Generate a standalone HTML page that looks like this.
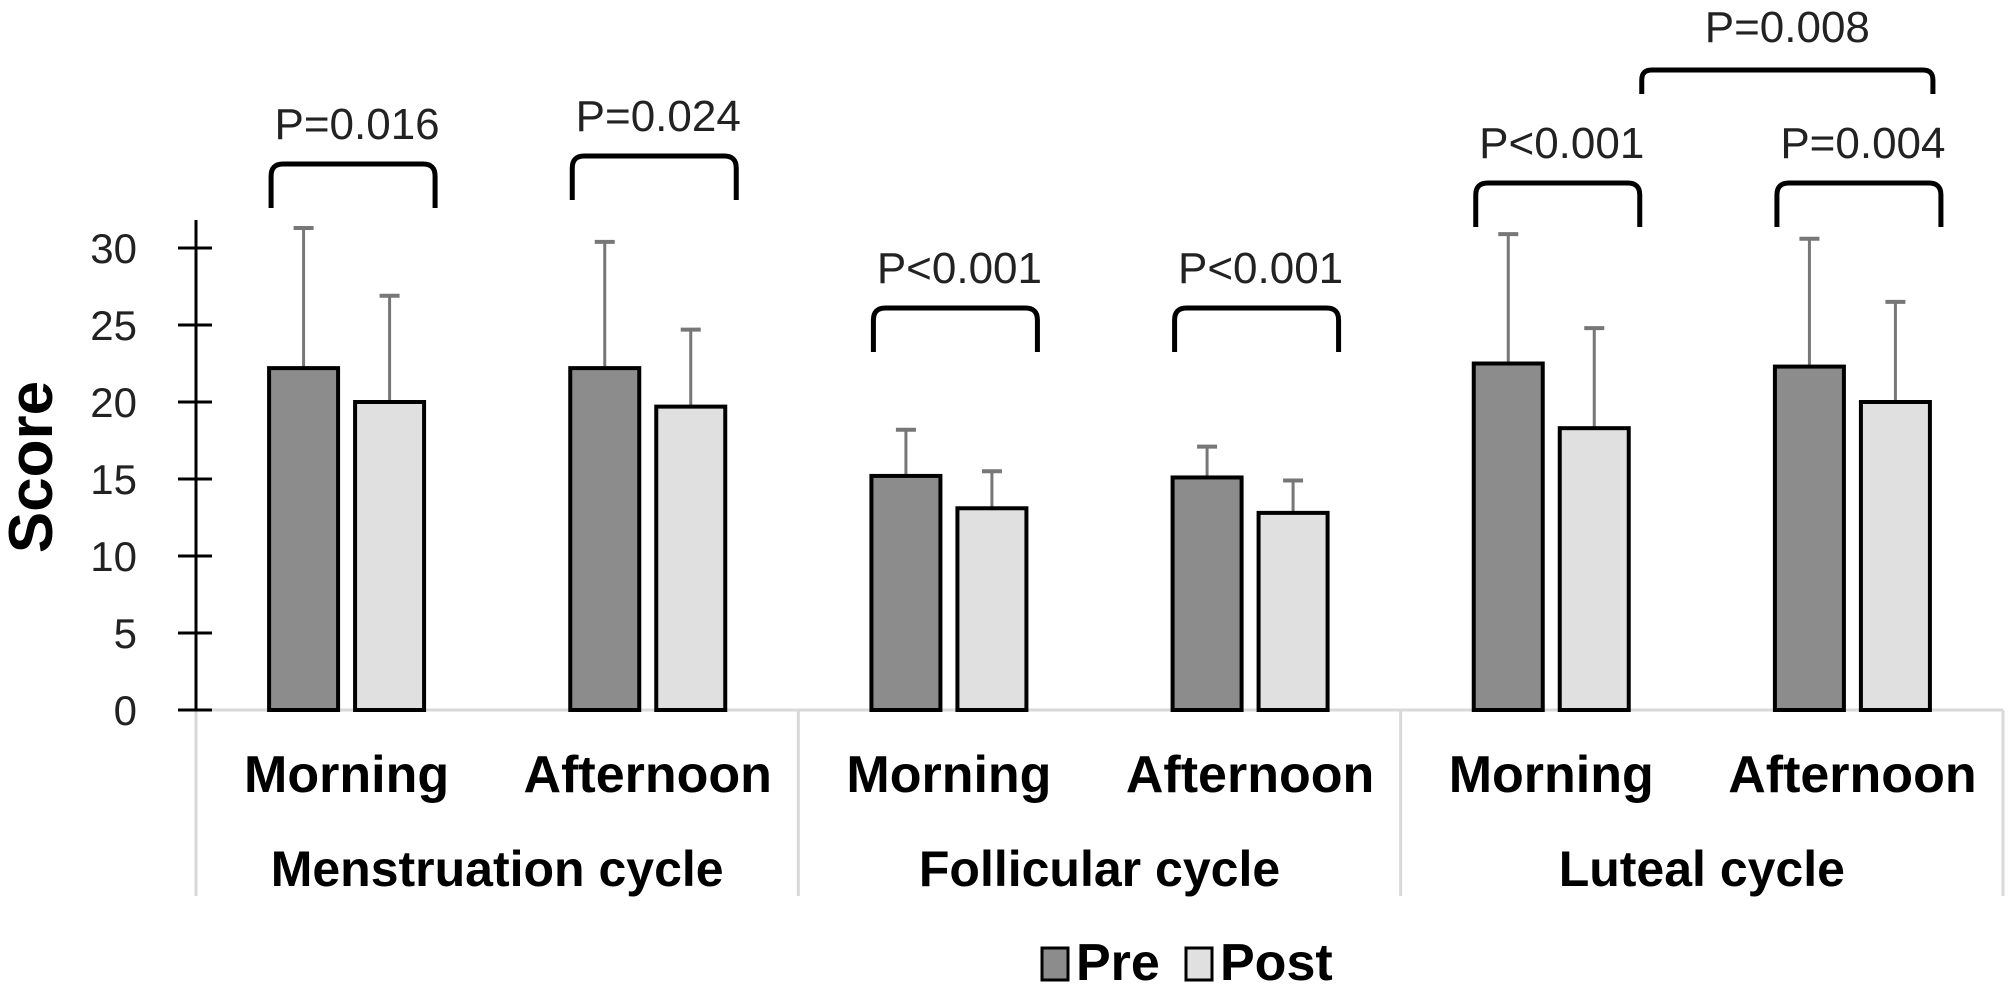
<!DOCTYPE html>
<html><head><meta charset="utf-8"><style>
html,body{margin:0;padding:0;background:#fff;}
svg{display:block;font-family:"Liberation Sans",Arial,sans-serif;}
</style></head><body>
<svg id="chart" width="2008" height="990" viewBox="0 0 2008 990"></svg>
<script>
const categories = ["Morning","Afternoon","Morning","Afternoon","Morning","Afternoon"];
const groups = ["Menstruation cycle","Follicular cycle","Luteal cycle"];
const preValues = [22.2,22.2,15.2,15.1,22.5,22.3];
const postValues = [20.0,19.7,13.1,12.8,18.3,20.0];
const preErrTop = [31.3,30.4,18.2,17.1,30.9,30.6];
const postErrTop = [26.9,24.7,15.5,14.9,24.8,26.5];
const yTicks = [0,5,10,15,20,25,30];
const pLabels = ["P=0.016","P=0.024","P<0.001","P<0.001","P<0.001","P=0.004"];
const bracketTops = [164,156,308,308,183,183];

const NS="http://www.w3.org/2000/svg";
const svg=document.getElementById('chart');
const X0=196, X1=2003, Y0=710, PX=15.4;
const gw=(X1-X0)/categories.length;
function y(v){return Y0-v*PX;}
function cx(i){return X0+gw*(i+0.5);}
function mk(tag,attrs,parent){const e=document.createElementNS(NS,tag);for(const k in attrs)e.setAttribute(k,attrs[k]);(parent||svg).appendChild(e);return e;}

const sepG=mk('g',{});


mk('line',{x1:X0,y1:Y0,x2:X1,y2:Y0,stroke:'#d9d9d9','stroke-width':3},sepG);
for(let g=0;g<=groups.length;g++){
  const xx=X0+gw*2*g;
  mk('line',{x1:xx,y1:Y0,x2:xx,y2:896,stroke:'#d9d9d9','stroke-width':3},sepG);
}

const ax=mk('g',{});


mk('line',{x1:X0,y1:220,x2:X0,y2:Y0+1,stroke:'#000','stroke-width':3},ax);
yTicks.forEach(t=>{
  mk('line',{x1:178,y1:y(t),x2:212,y2:y(t),stroke:'#000','stroke-width':3},ax);
  const tx=mk('text',{x:137,y:y(t)+15,'text-anchor':'end','font-size':42,fill:'#222'},ax);
  
  
  tx.textContent=t;
});
const yt=mk('text',{x:0,y:0,transform:'translate(52,467) rotate(-90)','text-anchor':'middle','font-size':62,'font-weight':'bold'});


yt.textContent='Score';

const bw=69, gap=17;
const bracketEnds=[];
categories.forEach((c,i)=>{
  const c0=cx(i);
  const px=c0-gap/2-bw, qx=c0+gap/2;
  const eb1=mk('line',{x1:px+bw/2,y1:y(preErrTop[i]),x2:px+bw/2,y2:y(preValues[i]),stroke:'#777','stroke-width':3});
  
  
  mk('line',{x1:px+bw/2-10,y1:y(preErrTop[i]),x2:px+bw/2+10,y2:y(preErrTop[i]),stroke:'#777','stroke-width':4});
  const eb2=mk('line',{x1:qx+bw/2,y1:y(postErrTop[i]),x2:qx+bw/2,y2:y(postValues[i]),stroke:'#777','stroke-width':3});
  
  
  mk('line',{x1:qx+bw/2-10,y1:y(postErrTop[i]),x2:qx+bw/2+10,y2:y(postErrTop[i]),stroke:'#777','stroke-width':4});
  const b1=mk('rect',{x:px,y:y(preValues[i]),width:bw,height:Y0-y(preValues[i]),fill:'#8c8c8c',stroke:'#000','stroke-width':4});
  
  
  const b2=mk('rect',{x:qx,y:y(postValues[i]),width:bw,height:Y0-y(postValues[i]),fill:'#e0e0e0',stroke:'#000','stroke-width':4});
  
  
  const cl=mk('text',{x:c0,y:792,'text-anchor':'middle','font-size':52,'font-weight':'bold'});
  
  
  cl.textContent=c;
  const by=bracketTops[i];
  const bx1=px+2, bx2=qx+bw+11;
  bracketEnds.push(bx2);
  const br=mk('path',{d:`M${bx1},${by+44} L${bx1},${by+12} Q${bx1},${by} ${bx1+12},${by} L${bx2-12},${by} Q${bx2},${by} ${bx2},${by+12} L${bx2},${by+44}`,fill:'none',stroke:'#000','stroke-width':5});
  
  
  const pl=mk('text',{x:(bx1+bx2)/2+4,y:by-25,'text-anchor':'middle','font-size':44,fill:'#222'});
  
  
  pl.textContent=pLabels[i];
});
{
  const bx1=bracketEnds[4]+2, bx2=bracketEnds[5]-8;
  const by=70;
  const br=mk('path',{d:`M${bx1},${by+24} L${bx1},${by+10} Q${bx1},${by} ${bx1+10},${by} L${bx2-10},${by} Q${bx2},${by} ${bx2},${by+10} L${bx2},${by+24}`,fill:'none',stroke:'#000','stroke-width':5});
  
  
  const pl=mk('text',{x:(bx1+bx2)/2,y:42,'text-anchor':'middle','font-size':44,fill:'#222'});
  
  
  pl.textContent='P=0.008';
}
groups.forEach((g,k)=>{
  const t=mk('text',{x:X0+gw*(2*k+1),y:886,'text-anchor':'middle','font-size':50,'font-weight':'bold'});
  
  
  t.textContent=g;
});
const lg=mk('g',{});


const l1=mk('rect',{x:1042,y:948,width:26,height:32,fill:'#8c8c8c',stroke:'#000','stroke-width':3},lg);


const t1=mk('text',{x:1076,y:980,'font-size':52,'font-weight':'bold'},lg);


t1.textContent='Pre';
const l2=mk('rect',{x:1186,y:948,width:26,height:32,fill:'#e0e0e0',stroke:'#000','stroke-width':3},lg);


const t2=mk('text',{x:1220,y:980,'font-size':52,'font-weight':'bold'},lg);


t2.textContent='Post';
</script>
</body></html>
